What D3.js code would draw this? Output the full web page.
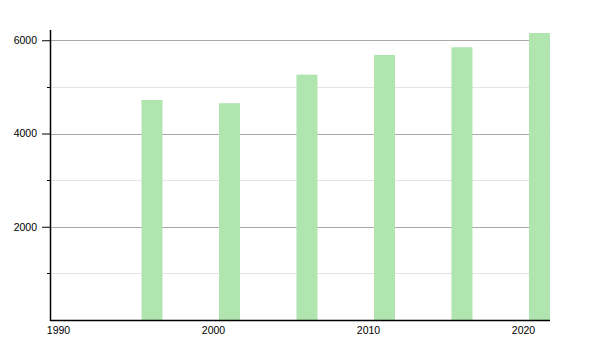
<!DOCTYPE html>
<html><head><meta charset="utf-8">
<script src="https://cdn.jsdelivr.net/npm/d3@7"></script>
<style>body{margin:0;background:#fff}svg{display:block}text{font-family:"Liberation Sans",Arial,sans-serif;font-size:10px;fill:#000}</style>
</head><body><svg id="c" width="600" height="350"></svg>
<script>
const years = [1996, 2001, 2006, 2011, 2016, 2021];
const population = [4720, 4650, 5263, 5685, 5850, 6156];
const xTickYears = [1990, 2000, 2010, 2020];
const yMajorTicks = [2000, 4000, 6000];
const yMinorTicks = [1000, 3000, 5000];

const svg = d3.select("#c");
const L = 50, R = 550, T = 30, B = 320;
const x = d3.scaleLinear().domain([1989.42, 2021.68]).range([L, R]);
const y = d3.scaleLinear().domain([0, 6220]).range([B, T]);

// grid
svg.append("g").selectAll("line").data(yMinorTicks).join("line")
  .attr("x1", L).attr("x2", R).attr("y1", d => Math.round(y(d)) + 0.5).attr("y2", d => Math.round(y(d)) + 0.5)
  .attr("stroke", "#e4e4e4").attr("stroke-width", 1);
svg.append("g").selectAll("line").data(yMajorTicks).join("line")
  .attr("x1", L).attr("x2", R).attr("y1", d => Math.round(y(d)) + 0.5).attr("y2", d => Math.round(y(d)) + 0.5)
  .attr("stroke", "#a8a8a8").attr("stroke-width", 1);

// bars
const bw = 21;
svg.append("g").selectAll("rect").data(years).join("rect")
  .attr("x", d => x(d) - bw / 2).attr("width", bw)
  .attr("y", (d, i) => y(population[i])).attr("height", (d, i) => B - y(population[i]))
  .attr("fill", "#b0e5b0");

// y axis
const yAxis = d3.axisLeft(y).tickValues(yMajorTicks).tickSize(8).tickPadding(5).tickSizeOuter(0).tickFormat(d3.format("d"));
const gy = svg.append("g").attr("transform", `translate(${L},0)`).call(yAxis);
gy.select(".domain").remove();
gy.selectAll("text").style("font-size", "10.5px").attr("fill", "#000");
gy.selectAll(".tick line").attr("stroke", "#000");
svg.append("g").selectAll("line").data(yMinorTicks).join("line")
  .attr("x1", L - 3).attr("x2", L).attr("y1", d => Math.round(y(d)) + 0.5).attr("y2", d => Math.round(y(d)) + 0.5)
  .attr("stroke", "#000");
svg.append("line").attr("x1", L + 0.5).attr("x2", L + 0.5).attr("y1", T).attr("y2", B + 1).attr("stroke", "#000").attr("stroke-width", 1.5);

// x axis
const xAxis = d3.axisBottom(x).tickValues(xTickYears).tickSize(0).tickPadding(7).tickSizeOuter(0).tickFormat(d3.format("d"));
const gx = svg.append("g").attr("transform", `translate(-1,${B})`).call(xAxis);
gx.select(".domain").remove();
gx.selectAll("text").style("font-size", "10.5px").attr("fill", "#000");
svg.append("line").attr("x1", L).attr("x2", R).attr("y1", B + 0.5).attr("y2", B + 0.5).attr("stroke", "#000").attr("stroke-width", 1.5);
</script></body></html>
